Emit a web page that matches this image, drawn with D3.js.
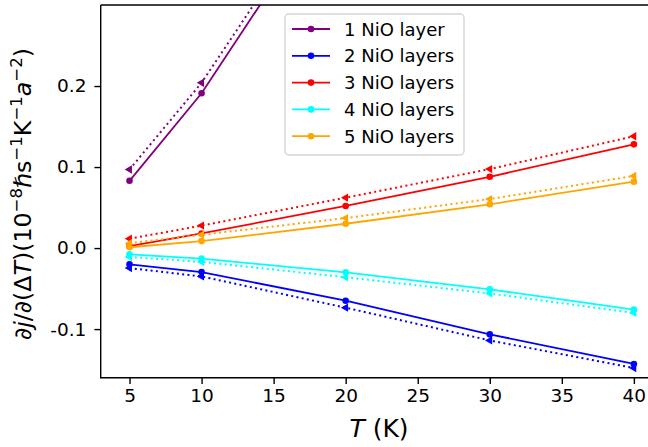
<!DOCTYPE html>
<html>
<head>
<meta charset="utf-8">
<script src="https://cdn.jsdelivr.net/npm/d3@7"></script>
<style>
  body { margin: 0; background: #fff; }
  svg { display: block; font-family: "DejaVu Sans", sans-serif; }
</style>
</head>
<body>
<div id="chart"></div>
<script>
// temperatures (K)
const temps = [5, 10, 20, 30, 40];
const layerNames = ["1 NiO layer", "2 NiO layers", "3 NiO layers", "4 NiO layers", "5 NiO layers"];
const layerColors = ["#800080", "#0000ff", "#ff0000", "#00ffff", "#ffa500"];

// solid lines (circle markers)
const solid1 = [0.083, 0.191, 0.46, 0.73, 1.0];
const solid2 = [-0.020, -0.0296, -0.065, -0.1065, -0.143];
const solid3 = [0.0025, 0.018, 0.052, 0.088, 0.128];
const solid4 = [-0.0078, -0.013, -0.030, -0.051, -0.076];
const solid5 = [0.001, 0.0086, 0.030, 0.054, 0.082];

// dotted lines (triangle markers)
const dotted1 = [0.097, 0.204, 0.47, 0.74, 1.01];
const dotted2 = [-0.0247, -0.035, -0.0736, -0.114, -0.148];
const dotted3 = [0.0116, 0.0277, 0.0622, 0.0975, 0.138];
const dotted4 = [-0.011, -0.017, -0.036, -0.056, -0.080];
const dotted5 = [0.006, 0.0165, 0.037, 0.0605, 0.089];

const xTicks = [5, 10, 15, 20, 25, 30, 35, 40];
const yTicks = [-0.1, 0.0, 0.1, 0.2];

const solids = [solid1, solid2, solid3, solid4, solid5];
const dotteds = [dotted1, dotted2, dotted3, dotted4, dotted5];

const W = 648, H = 447;
const plotLeft = 100.7, plotTop = 5, plotBottom = 377.7;

const x = d3.scaleLinear().domain([3, 42]).range([plotLeft, plotLeft + 39 * 14.41]);
const y = d3.scaleLinear().domain([-0.16, 0.30]).range([plotBottom, plotTop]);

const svg = d3.select("#chart").append("svg")
  .attr("width", W).attr("height", H);

svg.append("defs").append("clipPath").attr("id", "plotclip")
  .append("rect")
  .attr("x", plotLeft).attr("y", plotTop)
  .attr("width", x.range()[1] - plotLeft).attr("height", plotBottom - plotTop);

const plot = svg.append("g").attr("clip-path", "url(#plotclip)");

const line = d3.line().x(d => x(d[0])).y(d => y(d[1]));
const tri = d3.symbol().type(d3.symbolTriangle).size(30);

solids.forEach((vals, i) => {
  const pts = temps.map((t, j) => [t, vals[j]]);
  const dpts = temps.map((t, j) => [t, dotteds[i][j]]);
  const c = layerColors[i];
  plot.append("path").attr("d", line(dpts))
    .attr("fill", "none").attr("stroke", c).attr("stroke-width", 2)
    .attr("stroke-dasharray", "2,3.3");
  plot.selectAll(null).data(dpts).enter().append("path")
    .attr("d", tri)
    .attr("transform", d => `translate(${x(d[0])},${y(d[1])}) rotate(-90)`)
    .attr("fill", c);
  plot.append("path").attr("d", line(pts))
    .attr("fill", "none").attr("stroke", c).attr("stroke-width", 1.8);
  plot.selectAll(null).data(pts).enter().append("circle")
    .attr("cx", d => x(d[0])).attr("cy", d => y(d[1])).attr("r", 3.3)
    .attr("fill", c);
});

// spines
svg.append("path")
  .attr("d", `M${plotLeft},${plotTop} V${plotBottom} H${x.range()[1]} M${plotLeft},${plotTop} H${x.range()[1]}`)
  .attr("fill", "none").attr("stroke", "#000").attr("stroke-width", 1.4);

// axes
const xAxis = svg.append("g").attr("transform", `translate(0,${plotBottom})`)
  .call(d3.axisBottom(x).tickValues(xTicks).tickSize(6.3).tickPadding(5).tickFormat(d3.format("d")));
const yAxis = svg.append("g").attr("transform", `translate(${plotLeft},0)`)
  .call(d3.axisLeft(y).tickValues(yTicks).tickSize(6.3).tickPadding(8)
    .tickFormat(d => d3.format(".1f")(d).replace("−", "-")));
[xAxis, yAxis].forEach(a => {
  a.select(".domain").remove();
  a.selectAll(".tick line").attr("stroke", "#000").attr("stroke-width", 1.4);
  a.selectAll(".tick text").attr("font-size", 18.5).attr("fill", "#000")
    .attr("font-family", "DejaVu Sans, sans-serif");
});

// x label
const xl = svg.append("text").attr("x", 379).attr("y", 437)
  .attr("text-anchor", "middle").attr("font-size", 25);
xl.append("tspan").attr("font-style", "italic").text("T");
xl.append("tspan").text(" (K)");

// y label
const yl = svg.append("text")
  .attr("transform", `translate(31,194) rotate(-90)`)
  .attr("text-anchor", "middle").attr("font-size", 23.7);
const parts = [
  ["∂", null], ["j", "i"], ["/∂(Δ", null], ["T", "i"], [")(10", null], ["−8", "s"],
  ["ℏ", null], ["s", null], ["−1", "s"], ["K", null], ["−1", "s"], ["a", "i"], ["−2", "s"], [")", null]
];
let raised = false;
parts.forEach(([t, k]) => {
  const ts = yl.append("tspan").text(t);
  if (k === "i") ts.attr("font-style", "italic");
  if (k === "s") {
    ts.attr("font-size", 16.6).attr("dy", raised ? 0 : -9.5);
    raised = true;
  } else {
    ts.attr("dy", raised ? 9.5 : 0);
    raised = false;
  }
});

// legend
const lg = svg.append("g");
lg.append("rect").attr("x", 285).attr("y", 14).attr("width", 179).attr("height", 141)
  .attr("rx", 4).attr("fill", "#fff").attr("fill-opacity", 0.8)
  .attr("stroke", "#d5d5d5").attr("stroke-width", 1.4);
layerNames.forEach((name, i) => {
  const yy = 29 + i * 26.8;
  lg.append("line").attr("x1", 292).attr("x2", 330).attr("y1", yy).attr("y2", yy)
    .attr("stroke", layerColors[i]).attr("stroke-width", 1.8);
  lg.append("circle").attr("cx", 311).attr("cy", yy).attr("r", 3.3).attr("fill", layerColors[i]);
  lg.append("text").attr("x", 344).attr("y", yy + 6.5).attr("font-size", 18)
    .attr("fill", "#000").text(name);
});
</script>
</body>
</html>
